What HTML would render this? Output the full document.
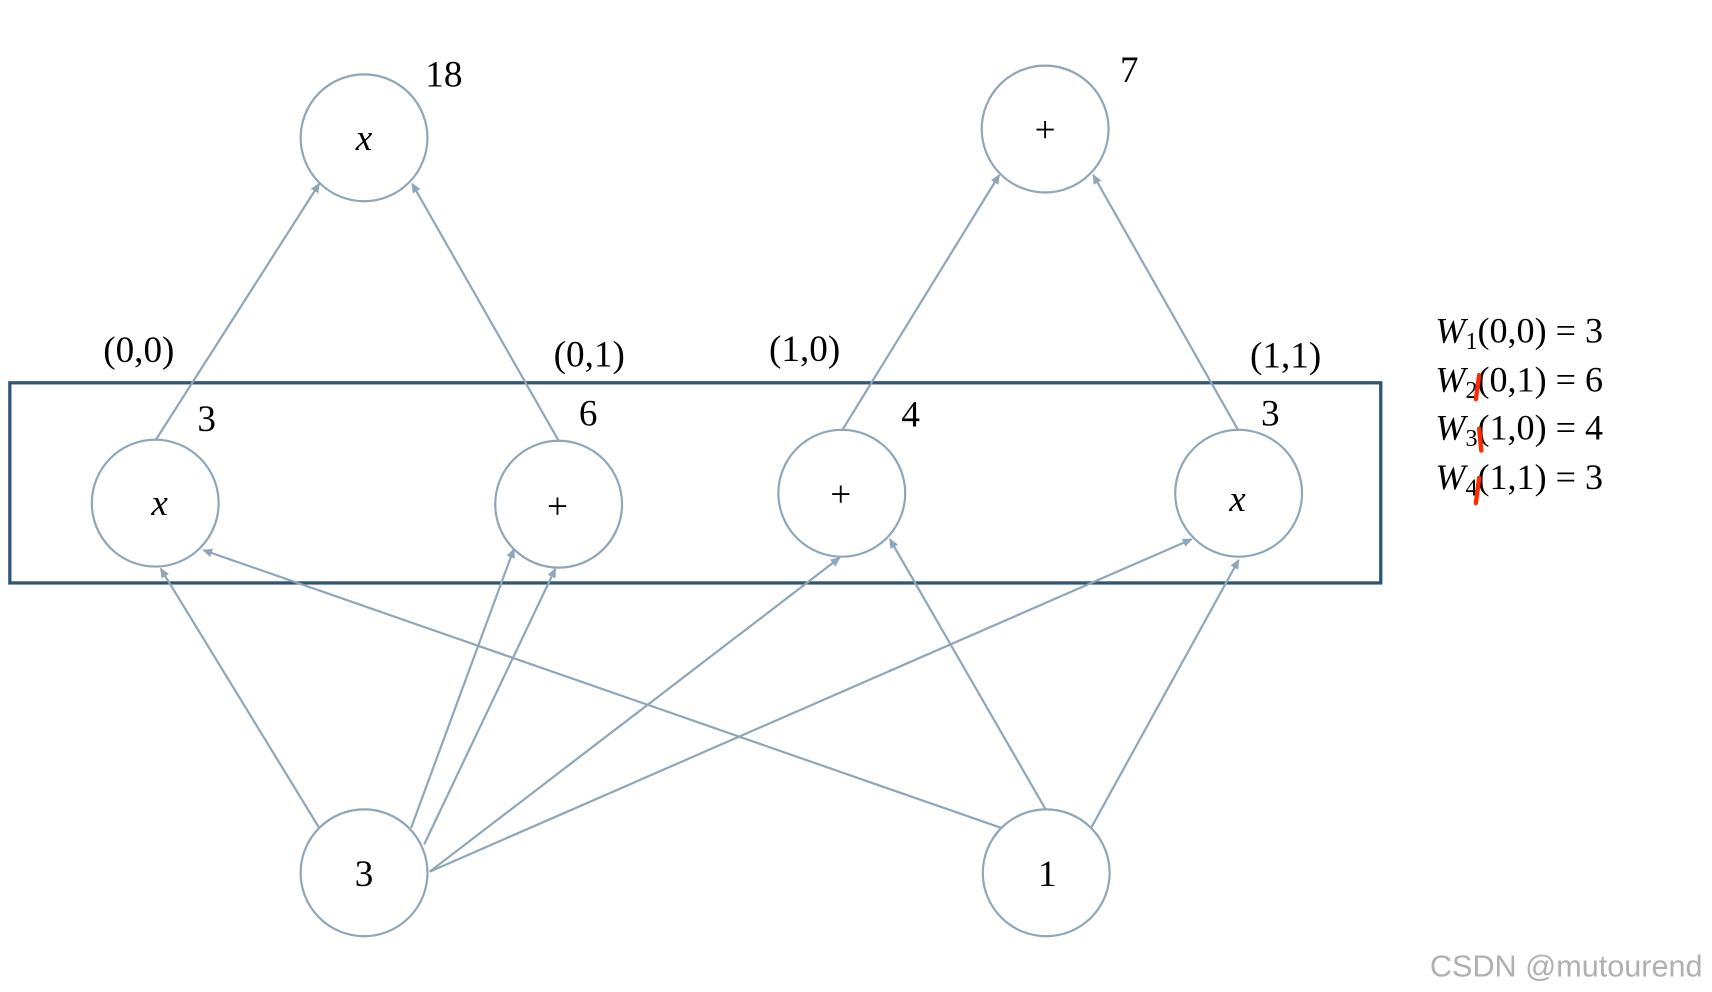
<!DOCTYPE html>
<html><head><style>html,body{margin:0;padding:0;background:#fff}svg{display:block}</style></head><body>
<svg width="1712" height="992" viewBox="0 0 1566 907" preserveAspectRatio="none" xmlns="http://www.w3.org/2000/svg">
<defs><marker id="a" markerWidth="10" markerHeight="10" refX="8" refY="4" orient="auto" markerUnits="userSpaceOnUse"><path d="M0,0 L9,4 L0,8 Z" fill="#8fa5b8"/></marker></defs>
<rect x="9" y="350" width="1254" height="183" fill="none" stroke="#2f5574" stroke-width="3"/>
<g stroke="#8fa5b8" stroke-width="2" fill="none" marker-end="url(#a)">
<line x1="142" y1="403" x2="292" y2="168"/>
<line x1="511" y1="403" x2="377" y2="168"/>
<line x1="770" y1="394" x2="914" y2="160"/>
<line x1="1133" y1="394" x2="1000" y2="160"/>
<line x1="292" y1="757" x2="147" y2="520"/>
<line x1="376" y1="757" x2="470" y2="502"/>
<line x1="388" y1="772" x2="508" y2="520"/>
<line x1="393" y1="797" x2="768" y2="510"/>
<line x1="393" y1="797" x2="1090" y2="493"/>
<line x1="916" y1="757" x2="186" y2="503"/>
<line x1="957" y1="741" x2="814" y2="493"/>
<line x1="998" y1="757" x2="1133" y2="512"/>
</g>
<g stroke="#8fa5b8" stroke-width="2" fill="#fff">
<circle cx="333" cy="126" r="58"/><circle cx="956" cy="118" r="58"/>
<circle cx="142" cy="460" r="58"/><circle cx="511" cy="461" r="58"/>
<circle cx="770" cy="451" r="58"/><circle cx="1133" cy="451" r="58"/>
<circle cx="333" cy="798" r="58"/><circle cx="957" cy="798" r="58"/>
</g>
<g font-family="Liberation Serif, serif" font-size="34" fill="#000" text-anchor="middle">
<text x="333" y="137" font-style="italic">x</text>
<text x="956" y="130">+</text>
<text x="146" y="471" font-style="italic">x</text>
<text x="510" y="474">+</text>
<text x="769" y="463">+</text>
<text x="1132" y="467" font-style="italic">x</text>
<text x="333" y="810">3</text>
<text x="958" y="810">1</text>
<text x="406" y="79">18</text>
<text x="1033" y="75">7</text>
<text x="127" y="331">(0,0)</text>
<text x="539" y="335">(0,1)</text>
<text x="736" y="330">(1,0)</text>
<text x="1176" y="336">(1,1)</text>
<text x="189" y="394">3</text>
<text x="538" y="389">6</text>
<text x="833" y="390">4</text>
<text x="1162" y="389">3</text>
</g>
<g font-family="Liberation Serif, serif" font-size="33" fill="#000">
<text x="1313" y="313"><tspan font-style="italic">W</tspan><tspan font-size="22" dy="6">1</tspan><tspan dy="-6">(0,0) = 3</tspan></text>
<text x="1313" y="358"><tspan font-style="italic">W</tspan><tspan font-size="22" dy="6">2</tspan><tspan dy="-6">(0,1) = 6</tspan></text>
<text x="1313" y="402"><tspan font-style="italic">W</tspan><tspan font-size="22" dy="6">3</tspan><tspan dy="-6">(1,0) = 4</tspan></text>
<text x="1313" y="447"><tspan font-style="italic">W</tspan><tspan font-size="22" dy="6">4</tspan><tspan dy="-6">(1,1) = 3</tspan></text>
</g>
<g stroke="#ff2a00" stroke-width="4" stroke-linecap="round">
<line x1="1353" y1="343" x2="1350" y2="365"/>
<line x1="1353" y1="392" x2="1355" y2="412"/>
<line x1="1353" y1="437" x2="1350" y2="460"/>
</g>
<text x="1308" y="893" font-family="Liberation Sans, sans-serif" font-size="28" fill="#b0b0b0">CSDN @mutourend</text>
</svg>
</body></html>
